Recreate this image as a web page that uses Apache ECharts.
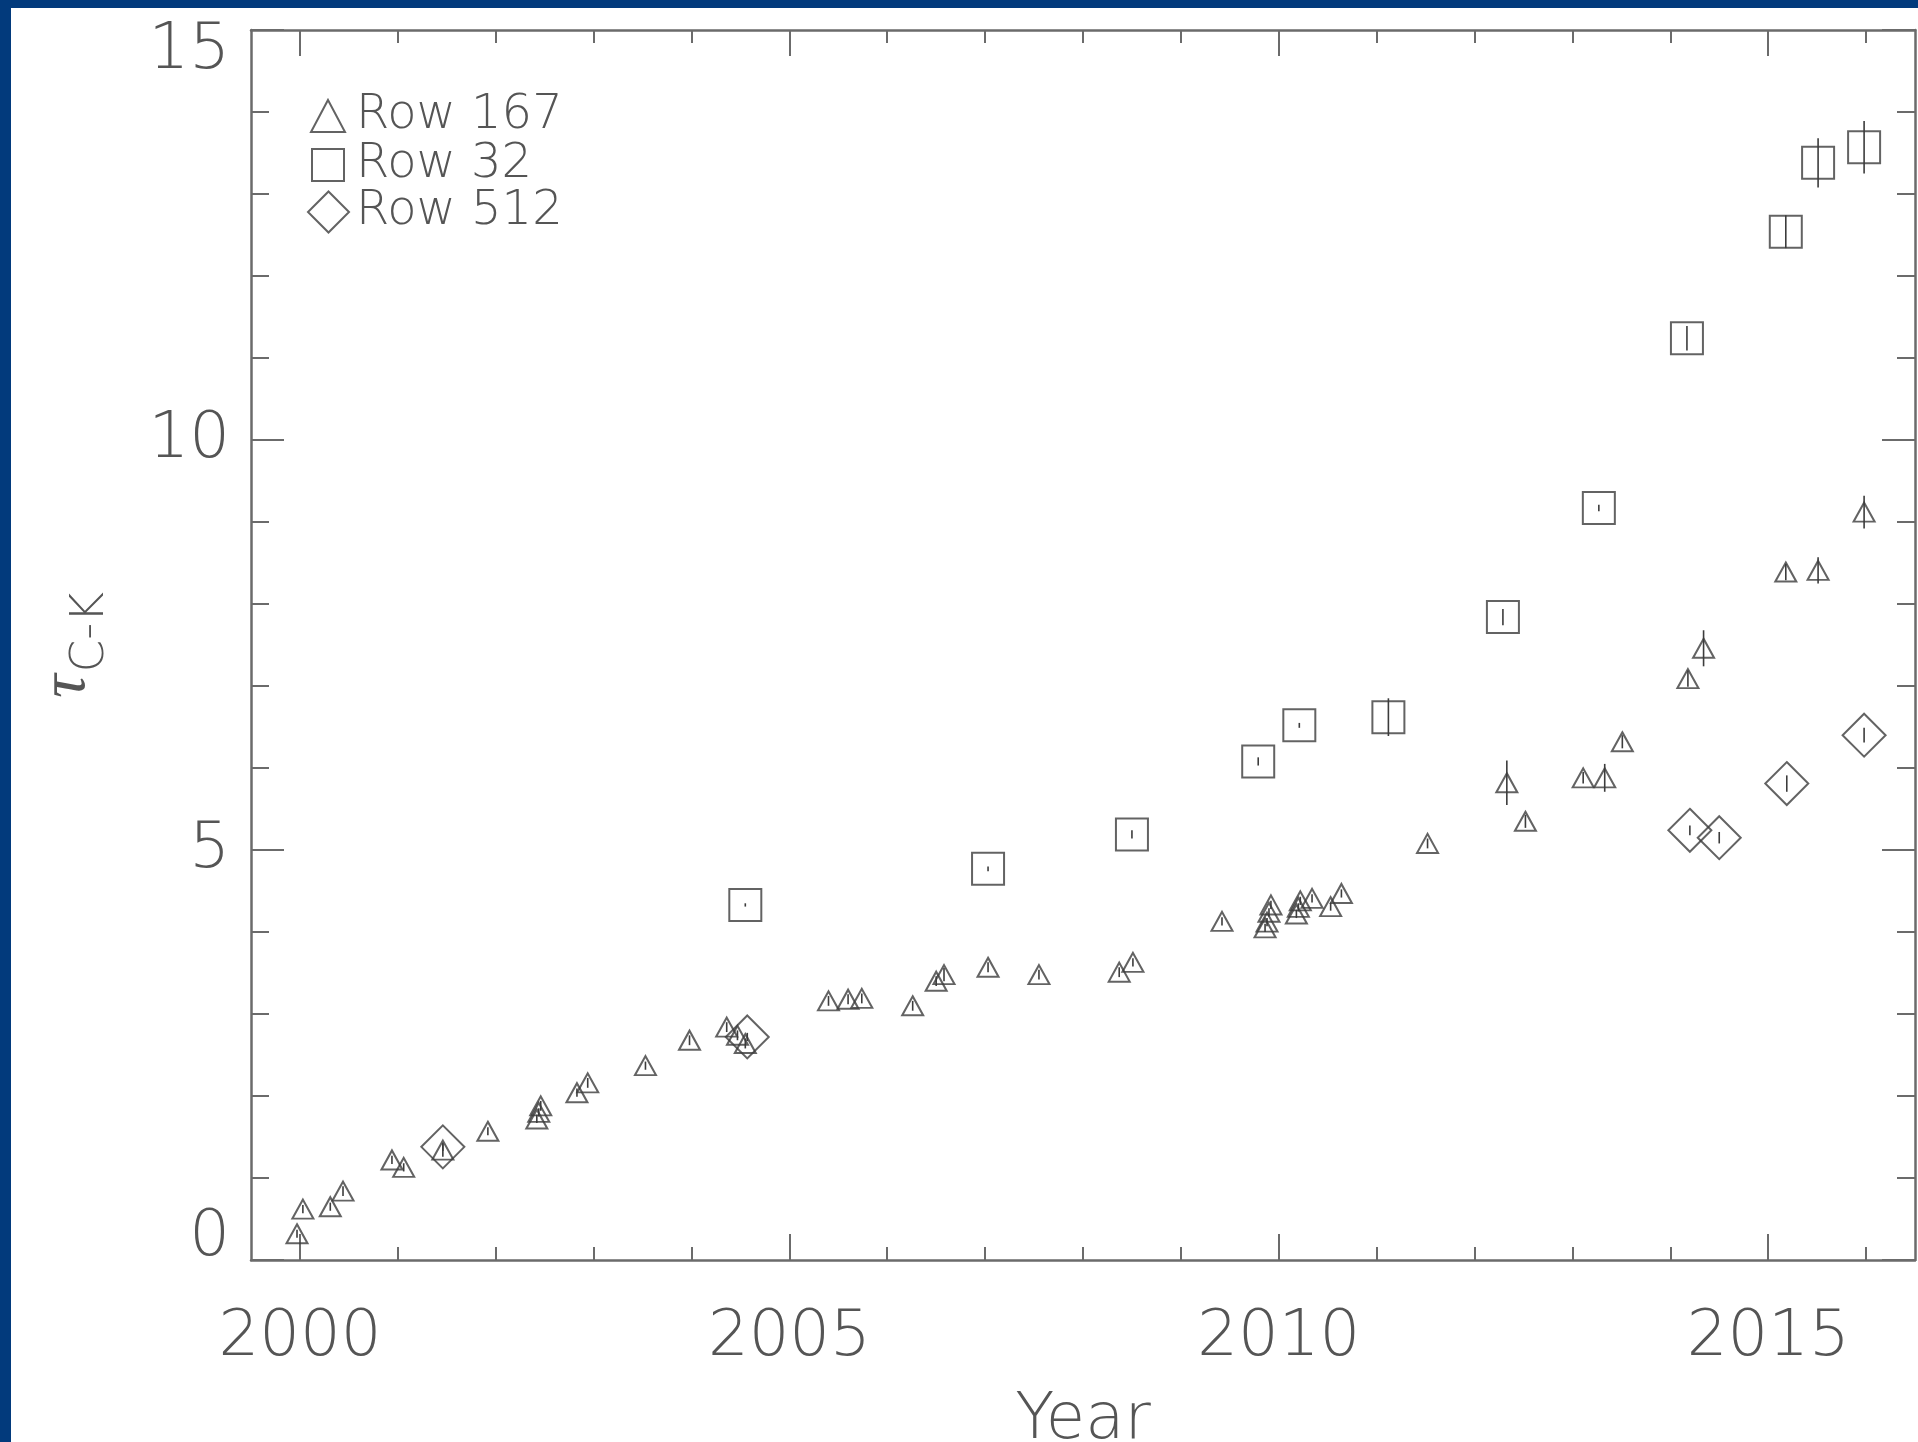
<!DOCTYPE html>
<html>
<head>
<meta charset="utf-8">
<title>Optical depth trend by row</title>
<script src="https://cdn.jsdelivr.net/npm/echarts@6/dist/echarts.min.js"></script>
<style>
  html, body { margin: 0; padding: 0; width: 1918px; height: 1442px; overflow: hidden; background: #023a7c; }
  #chart { position: absolute; left: 11px; top: 8px; width: 1907px; height: 1434px; background: #ffffff; }
</style>
</head>
<body>
<div id="chart"></div>
<script>
// ---- Row 167 (triangles) ----
const row167Year = [1999.97, 2000.03, 2000.31, 2000.44, 2000.94, 2001.06, 2001.46, 2001.92,
  2002.42, 2002.44, 2002.46, 2002.83, 2002.94, 2003.53, 2003.98, 2004.36, 2004.47, 2004.55,
  2005.40, 2005.60, 2005.74, 2006.26, 2006.50, 2006.58, 2007.03, 2007.55, 2008.37, 2008.51,
  2009.42, 2009.86, 2009.88, 2009.90, 2009.92, 2010.18, 2010.20, 2010.22, 2010.34, 2010.53,
  2010.64, 2011.52, 2012.33, 2012.52, 2013.11, 2013.33, 2013.51, 2014.18, 2014.34, 2015.18,
  2015.51, 2015.98];
const row167Tau = [0.32, 0.62, 0.65, 0.84, 1.22, 1.13, 1.34, 1.57,
  1.72, 1.80, 1.88, 2.04, 2.16, 2.37, 2.68, 2.84, 2.74, 2.64,
  3.16, 3.18, 3.19, 3.10, 3.40, 3.48, 3.57, 3.48, 3.51, 3.63,
  4.13, 4.05, 4.12, 4.24, 4.33, 4.22, 4.30, 4.38, 4.41, 4.31,
  4.47, 5.08, 5.82, 5.35, 5.88, 5.88, 6.32, 7.09, 7.46, 8.39,
  8.41, 9.12];
const row167Err = [0.05, 0.05, 0.05, 0.06, 0.05, 0.05, 0.08, 0.05,
  0.05, 0.05, 0.06, 0.05, 0.06, 0.05, 0.06, 0.06, 0.06, 0.06,
  0.06, 0.06, 0.06, 0.06, 0.06, 0.08, 0.06, 0.06, 0.06, 0.05,
  0.05, 0.05, 0.05, 0.05, 0.05, 0.05, 0.05, 0.05, 0.05, 0.05,
  0.05, 0.06, 0.27, 0.08, 0.07, 0.17, 0.08, 0.10, 0.22, 0.10,
  0.16, 0.20];

// ---- Row 32 (squares) ----
const row32Year = [2004.55, 2007.03, 2008.50, 2009.79, 2010.21, 2011.12, 2012.29, 2013.27,
  2014.17, 2015.18, 2015.51, 2015.98];
const row32Tau = [4.33, 4.77, 5.19, 6.08, 6.52, 6.62, 7.84, 9.17,
  11.24, 12.54, 13.38, 13.57];
const row32Err = [0.02, 0.03, 0.05, 0.05, 0.03, 0.23, 0.10, 0.04,
  0.15, 0.20, 0.30, 0.32];

// ---- Row 512 (diamonds) ----
const row512Year = [2001.46, 2004.57, 2014.20, 2014.50, 2015.19, 2015.98];
const row512Tau = [1.38, 2.72, 5.24, 5.15, 5.81, 6.40];
const row512Err = [0.05, 0.05, 0.06, 0.07, 0.10, 0.09];

// ---- axis ticks ----
const xMajorTicks = [2000, 2005, 2010, 2015];
const xMinorTicks = [2000, 2001, 2002, 2003, 2004, 2005, 2006, 2007, 2008,
  2009, 2010, 2011, 2012, 2013, 2014, 2015, 2016];

const FONT = '"DejaVu Sans", "Liberation Sans", sans-serif';
const TEXT = '#555555';
const AXIS = '#6b6b6b';
const MARK = '#3c3c3c';

const axisLineStyle = { color: AXIS, width: 2.5 };
const tickStyle = { color: AXIS, width: 2 };

function pairs(xs, ys) { return xs.map((x, i) => [x, ys[i]]); }

function scatterSeries(name, xs, ys, symbol, size) {
  return {
    type: 'scatter', name, xAxisIndex: 0, yAxisIndex: 0,
    data: pairs(xs, ys), symbol, symbolSize: size,
    itemStyle: { color: 'rgba(0,0,0,0)', borderColor: MARK, borderWidth: 2 },
    emphasis: { disabled: true }, silent: true, z: 4
  };
}

// vertical error bar through each point
function errorSeries(name, xs, ys, es) {
  return {
    type: 'custom', name, xAxisIndex: 0, yAxisIndex: 0,
    data: xs.map((x, i) => [x, ys[i], es[i]]),
    encode: { x: 0, y: 1 },
    silent: true, z: 5,
    renderItem(params, api) {
      const x = api.value(0), y = api.value(1), e = api.value(2);
      const p0 = api.coord([x, y - e]);
      const p1 = api.coord([x, y + e]);
      return { type: 'line', shape: { x1: p0[0], y1: p0[1], x2: p1[0], y2: p1[1] },
        style: { stroke: MARK, lineWidth: 1.6 } };
    }
  };
}

function xAxisDef(position, ticks, len, showLine, showLabel) {
  return {
    type: 'value', position, min: 1999.5, max: 2016.5,
    axisLine: { show: showLine, onZero: false, lineStyle: axisLineStyle },
    axisTick: { show: true, inside: true, length: len, customValues: ticks, lineStyle: tickStyle },
    axisLabel: { show: showLabel, customValues: xMajorTicks, margin: 46,
      formatter: (v) => String(Math.round(v)),
      fontFamily: FONT, fontSize: 64, fontWeight: 200, color: TEXT },
    splitLine: { show: false },
    name: showLabel ? 'Year' : '',
    nameLocation: 'middle', nameGap: 129,
    nameTextStyle: { fontFamily: FONT, fontSize: 64, fontWeight: 200, color: TEXT }
  };
}

function yAxisDef(position, showLabel) {
  return {
    type: 'value', position, min: 0, max: 15, interval: 5,
    axisLine: { show: true, onZero: false, lineStyle: axisLineStyle },
    axisTick: { show: true, inside: true, length: 33, lineStyle: tickStyle },
    minorTick: { show: true, splitNumber: 5, length: 18, lineStyle: tickStyle },
    axisLabel: { show: showLabel, margin: 21, lineHeight: 43,
      verticalAlignMinLabel: 'bottom', verticalAlignMaxLabel: 'top',
      fontFamily: FONT, fontSize: 64, fontWeight: 200, color: TEXT },
    splitLine: { show: false },
    name: showLabel ? '{t|τ}{s|C-K}' : '',
    nameLocation: 'middle', nameRotate: 90, nameGap: 137,
    nameTextStyle: {
      color: TEXT, fontFamily: FONT,
      rich: {
        t: { fontSize: 66, fontStyle: 'italic', fontFamily: '"Liberation Serif", "DejaVu Serif", serif',
             color: TEXT, padding: [0, 0, 14, 0], verticalAlign: 'bottom' },
        s: { fontSize: 47, fontWeight: 200, fontFamily: FONT, color: TEXT, verticalAlign: 'bottom',
             padding: [0, 0, 0, 2] }
      }
    }
  };
}

function legendDef(name, icon, left, top, w, h, padLeft) {
  return {
    data: [{ name, icon }], orient: 'vertical', left, top,
    itemWidth: w, itemHeight: h, selectedMode: false,
    itemStyle: { color: 'rgba(0,0,0,0)', borderColor: MARK, borderWidth: 2 },
    textStyle: { fontFamily: FONT, fontSize: 48, fontWeight: 200, color: TEXT, padding: [0, 0, 0, padLeft] }
  };
}

const chart = echarts.init(document.getElementById('chart'), null, { renderer: 'canvas' });
chart.setOption({
  animation: false,
  backgroundColor: '#ffffff',
  grid: { left: 240, right: 3, top: 22, bottom: 182, containLabel: false, outerBoundsMode: 'none' },
  xAxis: [
    xAxisDef('bottom', xMajorTicks, 26, true, true),
    xAxisDef('bottom', xMinorTicks, 13, false, false),
    xAxisDef('top', xMajorTicks, 26, true, false),
    xAxisDef('top', xMinorTicks, 13, false, false)
  ],
  yAxis: [ yAxisDef('left', true), yAxisDef('right', false) ],
  legend: [
    legendDef('Row 167', 'triangle', 294, 79, 34, 32, 6),
    legendDef('Row 32', 'rect', 295, 128, 32, 32, 7),
    legendDef('Row 512', 'diamond', 291, 175, 41, 41, 2)
  ],
  series: [
    scatterSeries('Row 167', row167Year, row167Tau, 'triangle', [21, 19]),
    scatterSeries('Row 32', row32Year, row32Tau, 'rect', 32),
    scatterSeries('Row 512', row512Year, row512Tau, 'diamond', 43),
    errorSeries('Row 167 error', row167Year, row167Tau, row167Err),
    errorSeries('Row 32 error', row32Year, row32Tau, row32Err),
    errorSeries('Row 512 error', row512Year, row512Tau, row512Err)
  ]
});
</script>
</body>
</html>
